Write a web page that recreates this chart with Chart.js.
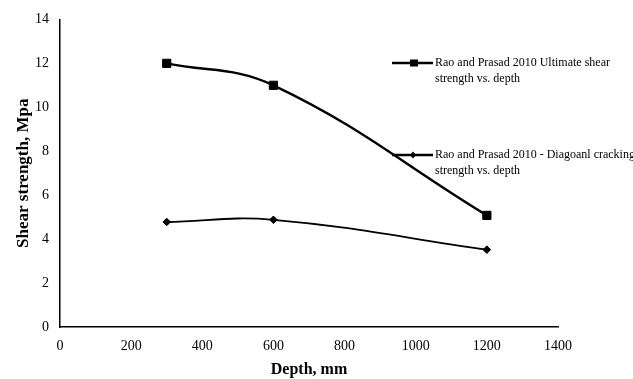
<!DOCTYPE html>
<html>
<head>
<meta charset="utf-8">
<script src="https://cdn.jsdelivr.net/npm/chart.js@4"></script>
<style>
  html, body { margin: 0; padding: 0; background: #fff; }
  #wrap { width: 633px; height: 379px; position: relative; }
</style>
</head>
<body>
<div id="wrap"><canvas id="c" width="633" height="379"></canvas></div>
<script>
const depths = [300, 600, 1200];
const ultimateShear = [12.0, 11.0, 5.08];
const diagonalCracking = [4.78, 4.88, 3.52];
const ultimateLabel = ["Rao and Prasad 2010 Ultimate shear", "strength vs. depth"];
const diagonalLabel = ["Rao and Prasad 2010 - Diagoanl cracking", "strength vs. depth"];
const xTitle = "Depth, mm";
const yTitle = "Shear strength, Mpa";

const SERIF = '"Liberation Serif", "Times New Roman", serif';

const toPts = (xs, ys) => xs.map((x, i) => ({ x: x, y: ys[i] }));

const fixedLegend = {
  id: 'fixedLegend',
  afterDraw(chart) {
    const ctx = chart.ctx;
    const entries = [
      { lines: ultimateLabel, ds: chart.data.datasets[0], y: 63 },
      { lines: diagonalLabel, ds: chart.data.datasets[1], y: 155 }
    ];
    ctx.save();
    entries.forEach(e => {
      ctx.strokeStyle = '#000';
      ctx.lineWidth = 2.5;
      ctx.beginPath();
      ctx.moveTo(392, e.y);
      ctx.lineTo(433, e.y);
      ctx.stroke();
      ctx.fillStyle = '#000';
      if (e.ds.pointStyle === 'rect') {
        ctx.fillRect(410, e.y - 3.5, 8, 7);
      } else {
        ctx.beginPath();
        ctx.moveTo(413, e.y - 3.5);
        ctx.lineTo(416, e.y);
        ctx.lineTo(413, e.y + 3.5);
        ctx.lineTo(410, e.y);
        ctx.closePath();
        ctx.fill();
      }
      ctx.font = '12px ' + SERIF;
      ctx.textBaseline = 'middle';
      ctx.textAlign = 'left';
      e.lines.forEach((ln, i) => {
        ctx.fillText(ln, 435, e.y + i * 16);
      });
    });
    ctx.restore();
  }
};

new Chart(document.getElementById('c'), {
  type: 'line',
  data: {
    datasets: [
      {
        label: ultimateLabel.join(' '),
        data: toPts(depths, ultimateShear),
        borderColor: '#000',
        backgroundColor: '#000',
        borderWidth: 2.4,
        pointStyle: 'rect',
        pointRadius: 5.8,
        pointBorderWidth: 1,
        tension: 0.4,
        fill: false
      },
      {
        label: diagonalLabel.join(' '),
        data: toPts(depths, diagonalCracking),
        borderColor: '#000',
        backgroundColor: '#000',
        borderWidth: 1.8,
        pointStyle: 'rectRot',
        pointRadius: 3.8,
        pointBorderWidth: 1,
        tension: 0.4,
        fill: false
      }
    ]
  },
  options: {
    responsive: false,
    animation: false,
    events: [],
    layout: { padding: { top: 18, right: 75, left: 0, bottom: 0 } },
    plugins: {
      legend: { display: false },
      tooltip: { enabled: false }
    },
    scales: {
      x: {
        type: 'linear',
        min: 0, max: 1400,
        ticks: { stepSize: 200, color: '#000', padding: 11, font: { family: SERIF, size: 14 },
                 callback: v => String(v) },
        grid: { display: false, drawTicks: false },
        border: { display: true, color: '#000', width: 1.5 },
        title: { display: true, text: xTitle, color: '#000', padding: { top: 0, bottom: 0 }, font: { family: SERIF, size: 16, weight: 'bold' } },
        afterFit(scale) { scale.height = 52; }
      },
      y: {
        min: 0, max: 14,
        ticks: { stepSize: 2, color: '#000', padding: 11, font: { family: SERIF, size: 14 },
                 callback: v => String(v) },
        grid: { display: false, drawTicks: false },
        border: { display: true, color: '#000', width: 1.5 },
        title: { display: true, text: yTitle, color: '#000', padding: { top: 13, bottom: 0 }, font: { family: SERIF, size: 17, weight: 'bold' } },
        afterFit(scale) { scale.width = 60; }
      }
    }
  },
  plugins: [fixedLegend]
});
</script>
</body>
</html>
